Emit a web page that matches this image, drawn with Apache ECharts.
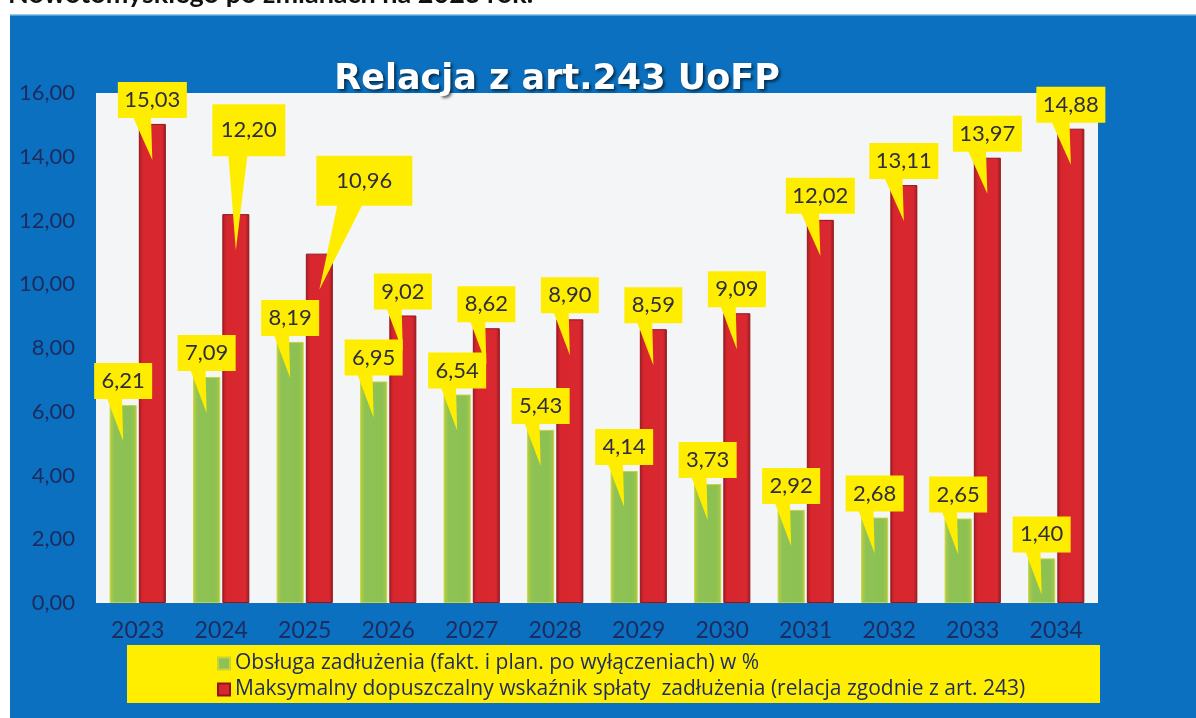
<!DOCTYPE html>
<html>
<head>
<meta charset="utf-8">
<script src="https://cdn.jsdelivr.net/npm/echarts@6/dist/echarts.min.js"></script>
<style>html,body{margin:0;padding:0;background:#fff;}#c{width:1196px;height:718px;}</style>
</head>
<body>
<div id="c"></div>
<script>
const years = ['2023','2024','2025','2026','2027','2028','2029','2030','2031','2032','2033','2034'];
const debtService = [6.21, 7.09, 8.19, 6.95, 6.54, 5.43, 4.14, 3.73, 2.92, 2.68, 2.65, 1.40];
const maxRatio = [15.03, 12.20, 10.96, 9.02, 8.62, 8.90, 8.59, 9.09, 12.02, 13.11, 13.97, 14.88];
const seriesNames = [
  'Obsługa zadłużenia (fakt. i plan. po wyłączeniach) w %',
  'Maksymalny dopuszczalny wskaźnik spłaty  zadłużenia (relacja zgodnie z art. 243)'
];
const titleText = 'Relacja z art.243 UoFP';
const headerText = 'Nowotomyskiego po zmianach na 2023 rok.';

// callout placement tweaks (label layout only): [dx, dy, extraW, extraH]
const redCalloutShift = [null, [13, -52, 4, 16], [45, -42, 27, 14]];

const fmt = v => v.toFixed(2).replace('.', ',');
const BAR_W = 27;
const NAVY = '#1d2b5e';

function calloutRender(side, shifts) {
  return function (params, api) {
    const i = api.value(0), v = api.value(1);
    const p = api.coord([i, v]);
    const cx = p[0] + side * (BAR_W / 2 + 1.1);
    const s = (shifts && shifts[params.dataIndex]) || [0, 0, 0, 0];
    const txt = fmt(v);
    const w = txt.length * 11 + 14 + s[2];
    const h = 36 + s[3];
    const bx = cx - w / 2 + s[0];
    const bb = p[1] - 6 + s[1];
    const by = bb - h;
    const tipY = p[1] + 36;
    return {
      type: 'group',
      children: [
        { type: 'polygon', shape: { points: [[bx + w * 0.22, bb - 1], [bx + w * 0.48, bb - 1], [cx, tipY]] },
          style: { fill: '#ffed00' } },
        { type: 'rect', shape: { x: bx, y: by, width: w, height: h }, style: { fill: '#ffed00' } },
        { type: 'text', style: { text: txt, x: bx + w / 2, y: by + h / 2, align: 'center', verticalAlign: 'middle',
          fill: '#2e2e40', fontSize: 22, fontFamily: 'Lato' } }
      ]
    };
  };
}

const chart = echarts.init(document.getElementById('c'), null, { renderer: 'canvas' });
chart.setOption({
  animation: false,
  backgroundColor: '#ffffff',
  graphic: [
    { type: 'text', z: 0, style: { text: headerText, x: 8, y: -6, verticalAlign: 'middle', fill: '#111',
      fontSize: 27, fontWeight: 'bold', fontFamily: 'Lato' } },
    { type: 'rect', z: -10, shape: { x: 10, y: 14, width: 1186, height: 704 }, style: { fill: '#0a70bf' } },
    { type: 'rect', z: -9, shape: { x: 10, y: 14, width: 1186, height: 1.5 }, style: { fill: '#9cc8ea' } },
    { type: 'rect', z: 1, shape: { x: 127, y: 645, width: 973, height: 58 }, style: { fill: '#ffee00' } },
    { type: 'text', z: 10, style: { text: titleText, x: 557, y: 80, align: 'center', verticalAlign: 'middle',
      fill: '#ffffff', fontSize: 35, fontWeight: 'bold', fontFamily: 'DejaVu Sans',
      textShadowColor: 'rgba(0,0,0,0.6)', textShadowBlur: 3, textShadowOffsetX: 2, textShadowOffsetY: 2 } }
  ],
  legend: {
    orient: 'vertical', left: 212, top: 648, itemGap: 5, itemWidth: 12, itemHeight: 12, z: 5,
    data: seriesNames, icon: 'rect',
    textStyle: { color: NAVY, fontSize: 21, fontFamily: 'Open Sans' }
  },
  grid: { left: 96, right: 98, top: 93, bottom: 115, show: true, backgroundColor: '#f4f5f7', borderWidth: 0 },
  xAxis: {
    type: 'category', data: years,
    axisLine: { show: false }, axisTick: { show: false },
    axisLabel: { color: NAVY, fontSize: 23, fontFamily: 'Lato', margin: 16 }
  },
  yAxis: {
    type: 'value', min: 0, max: 16, interval: 2,
    splitLine: { show: false }, axisLine: { show: false }, axisTick: { show: false },
    axisLabel: { color: NAVY, fontSize: 22, fontFamily: 'Lato', margin: 21, formatter: v => fmt(v) }
  },
  series: [
    { type: 'bar', name: seriesNames[0], data: debtService, barWidth: BAR_W, barGap: '8%', z: 2,
      itemStyle: { color: { type: 'linear', x: 0, y: 0, x2: 1, y2: 0, colorStops: [
        { offset: 0, color: '#b7cf3c' }, { offset: 0.18, color: '#8fc255' }, { offset: 0.8, color: '#8cc152' }, { offset: 1, color: '#a5c848' }] },
        borderColor: '#c6d43a', borderWidth: 1 } },
    { type: 'bar', name: seriesNames[1], data: maxRatio, barWidth: BAR_W, z: 2,
      itemStyle: { color: { type: 'linear', x: 0, y: 0, x2: 1, y2: 0, colorStops: [
        { offset: 0, color: '#a81c22' }, { offset: 0.15, color: '#d8262e' }, { offset: 0.85, color: '#da2830' }, { offset: 1, color: '#a01a20' }] },
        borderColor: '#8e161b', borderWidth: 1 } },
    { type: 'custom', name: 'etykiety1', z: 4, silent: true, data: debtService.map((v, i) => [i, v]),
      encode: { x: 0, y: 1 }, renderItem: calloutRender(-1, null) },
    { type: 'custom', name: 'etykiety2', z: 3, silent: true, data: maxRatio.map((v, i) => [i, v]),
      encode: { x: 0, y: 1 }, renderItem: calloutRender(1, redCalloutShift) }
  ]
});
</script>
</body>
</html>
